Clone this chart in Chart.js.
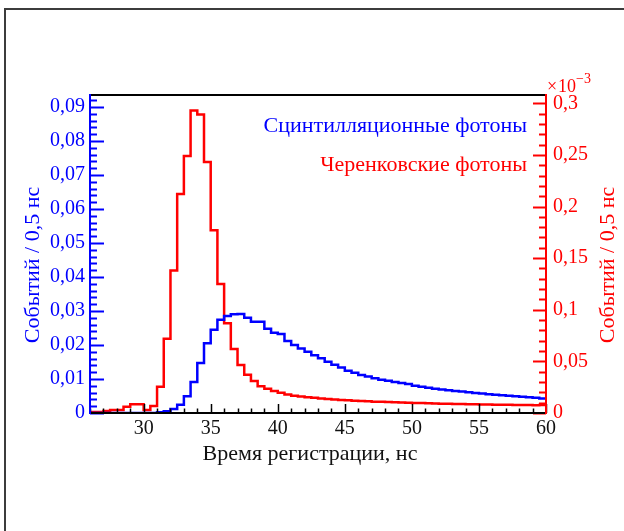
<!DOCTYPE html>
<html>
<head>
<meta charset="utf-8">
<script src="https://cdn.jsdelivr.net/npm/chart.js@4.4.1/dist/chart.umd.min.js"></script>
<style>
  html, body { margin: 0; padding: 0; background: #fff; overflow: hidden; }
  #frame { position: absolute; left: 4px; top: 8px; width: 800px; height: 800px; border: 2px solid #3c3c3c; }
  #wrap { position: absolute; left: 0; top: 0; width: 624px; height: 531px; }
</style>
</head>
<body>
<div id="frame"></div>
<div id="wrap"><canvas id="timeChart" width="624" height="531"></canvas></div>
<script>
// histogram binning, ns
const binStart = 26;
const binWidth = 0.5;

// scintillation photons, events / 0.5 ns
const scintCounts = [
  0, 0, 0, 0, 0, 0, 0, 0, 0, 0,
  0.0002, 0.0005,
  0.0012, 0.0024, 0.0049, 0.0091, 0.0147, 0.0205, 0.0245, 0.0274,
  0.0285, 0.0290, 0.0291, 0.0280, 0.0268, 0.0268, 0.0248, 0.0236,
  0.0232, 0.0212, 0.0200, 0.0190, 0.0180, 0.0170, 0.0161, 0.0151,
  0.0142, 0.0134, 0.0124, 0.0118, 0.0112, 0.0107, 0.0102, 0.0098,
  0.0095, 0.0091, 0.0088, 0.0085, 0.0080, 0.0077, 0.0074, 0.0071,
  0.0069, 0.0067, 0.0065, 0.0063, 0.0061, 0.0059, 0.0057, 0.0055,
  0.0054, 0.0052, 0.0051, 0.0049, 0.0048, 0.0046, 0.0045, 0.0043
];

// Cherenkov photons, events / 0.5 ns, in units of 10^-3
const cherenkovCounts = [
  0.001, 0.001, 0.002, 0.003, 0.003, 0.006, 0.0084, 0.0084,
  0.003, 0.0068, 0.0255, 0.072, 0.138, 0.212, 0.249, 0.293,
  0.289, 0.243, 0.177, 0.125, 0.087, 0.062, 0.0465, 0.037,
  0.031, 0.026, 0.0235, 0.0213, 0.0197, 0.018, 0.0168, 0.016,
  0.0153, 0.0147, 0.0141, 0.0136, 0.0131, 0.0127, 0.0123, 0.0119,
  0.0116, 0.0113, 0.011, 0.0108, 0.0106, 0.0104, 0.0102, 0.0100,
  0.0098, 0.0096, 0.0094, 0.0092, 0.0090, 0.0089, 0.0087, 0.0086,
  0.0085, 0.0084, 0.0083, 0.0082, 0.0081, 0.0080, 0.0079, 0.0078,
  0.0077, 0.0077, 0.0076, 0.0078
];

const xTicks = [30, 35, 40, 45, 50, 55, 60];
const leftTicks = [0, 0.01, 0.02, 0.03, 0.04, 0.05, 0.06, 0.07, 0.08, 0.09];
const rightTicks = [0, 0.05, 0.1, 0.15, 0.2, 0.25, 0.3];

const seriesNames = ['Сцинтилляционные фотоны', 'Черенковские фотоны'];
const xTitle = 'Время регистрации, нс';
const yTitle = 'Событий / 0,5 нс';

const BLUE = '#0000ff';
const RED = '#ff0000';
const FONT = "'Liberation Serif', 'Times New Roman', serif";

// bin edges -> points for a stepped line, last bin closed at the upper edge
function histPoints(counts) {
  const pts = counts.map((v, i) => ({ x: binStart + i * binWidth, y: v }));
  pts.push({ x: binStart + counts.length * binWidth, y: counts[counts.length - 1] });
  return pts;
}

function fixTicks(values) {
  return scale => { scale.ticks = values.map(value => ({ value })); };
}

const comma = v => String(Math.round(v * 100) / 100).replace('.', ',');

// axis lines, inward ticks and the texts around the frame
const axisDecor = {
  id: 'axisDecor',
  afterDraw(chart) {
    const { ctx, chartArea: a, scales } = chart;
    ctx.save();
    ctx.lineCap = 'butt';

    const line = (x1, y1, x2, y2, color, w) => {
      ctx.strokeStyle = color;
      ctx.lineWidth = w;
      ctx.beginPath();
      ctx.moveTo(x1, y1);
      ctx.lineTo(x2, y2);
      ctx.stroke();
    };

    // x ticks, every 1 ns
    for (let v = 26; v <= 60; v++) {
      const px = Math.round(scales.x.getPixelForValue(v)) + 0.5;
      line(px, a.bottom, px, a.bottom - (v % 5 === 0 ? 9 : 4.5), '#000', 1.5);
    }
    // left ticks, every 0.002
    for (let k = 0; k * 0.002 <= 0.0935; k++) {
      const py = Math.round(scales.yL.getPixelForValue(k * 0.002)) + 0.5;
      line(a.left, py, a.left + (k % 5 === 0 ? 14 : 7), py, BLUE, 2);
    }
    // right ticks, every 0.01e-3
    for (let k = 0; k * 0.01 <= 0.308; k++) {
      const py = Math.round(scales.yR.getPixelForValue(k * 0.01)) + 0.5;
      line(a.right, py, a.right - (k % 5 === 0 ? 13 : 7), py, RED, 2);
    }

    line(a.left, a.top, a.right, a.top, '#000', 2);
    line(a.left, a.bottom, a.right, a.bottom, '#000', 2);
    line(a.left, a.top - 1, a.left, a.bottom + 1, BLUE, 2);
    line(a.right, a.top - 1, a.right, a.bottom + 1, RED, 2);

    // series labels
    ctx.textAlign = 'right';
    ctx.textBaseline = 'alphabetic';
    ctx.font = '22px ' + FONT;
    ctx.fillStyle = BLUE;
    ctx.fillText(seriesNames[0], 527, 132);
    ctx.fillStyle = RED;
    ctx.fillText(seriesNames[1], 527, 171);

    // x title
    ctx.textAlign = 'center';
    ctx.fillStyle = '#111';
    ctx.fillText(xTitle, 310, 460);

    // y titles
    ctx.textBaseline = 'middle';
    ctx.save();
    ctx.translate(33, 265);
    ctx.rotate(-Math.PI / 2);
    ctx.fillStyle = BLUE;
    ctx.fillText(yTitle, 0, 0);
    ctx.restore();
    ctx.save();
    ctx.translate(608, 265);
    ctx.rotate(-Math.PI / 2);
    ctx.fillStyle = RED;
    ctx.fillText(yTitle, 0, 0);
    ctx.restore();

    // exponent of the right axis
    ctx.textAlign = 'left';
    ctx.textBaseline = 'alphabetic';
    ctx.fillStyle = RED;
    ctx.font = '18px ' + FONT;
    ctx.fillText('×', 547, 92);
    ctx.fillText('10', 558, 92);
    ctx.font = '14px ' + FONT;
    ctx.fillText('−3', 576, 83);

    ctx.restore();
  }
};

new Chart(document.getElementById('timeChart'), {
  type: 'line',
  data: {
    datasets: [
      {
        label: seriesNames[0],
        data: histPoints(scintCounts),
        yAxisID: 'yL',
        borderColor: BLUE,
        borderWidth: 2.5,
        stepped: true,
        pointRadius: 0,
        fill: false
      },
      {
        label: seriesNames[1],
        data: histPoints(cherenkovCounts),
        yAxisID: 'yR',
        borderColor: RED,
        borderWidth: 2.5,
        stepped: true,
        pointRadius: 0,
        fill: false
      }
    ]
  },
  options: {
    responsive: false,
    animation: false,
    events: [],
    layout: { padding: { top: 95, left: 0, right: 0, bottom: 0 } },
    plugins: {
      legend: { display: false },
      tooltip: { enabled: false }
    },
    scales: {
      x: {
        type: 'linear',
        position: 'bottom',
        min: 26,
        max: 60,
        grid: { display: false, drawTicks: false },
        border: { display: false },
        afterBuildTicks: fixTicks(xTicks),
        afterFit: s => { s.height = 118; },
        ticks: {
          autoSkip: false,
          maxRotation: 0,
          padding: 4,
          color: '#111',
          font: { family: FONT, size: 20 },
          callback: v => String(v)
        }
      },
      yL: {
        type: 'linear',
        position: 'left',
        min: 0,
        max: 0.0935,
        grid: { display: false, drawTicks: false },
        border: { display: false },
        afterBuildTicks: fixTicks(leftTicks),
        afterFit: s => { s.width = 90; },
        ticks: {
          padding: 5,
          color: BLUE,
          font: { family: FONT, size: 20 },
          callback: v => v === 0 ? '0' : v.toFixed(2).replace('.', ',')
        }
      },
      yR: {
        type: 'linear',
        position: 'right',
        min: 0,
        max: 0.308,
        grid: { display: false, drawTicks: false },
        border: { display: false },
        afterBuildTicks: fixTicks(rightTicks),
        afterFit: s => { s.width = 78; },
        ticks: {
          padding: 7,
          color: RED,
          font: { family: FONT, size: 20 },
          callback: comma
        }
      }
    }
  },
  plugins: [axisDecor]
});
</script>
</body>
</html>
